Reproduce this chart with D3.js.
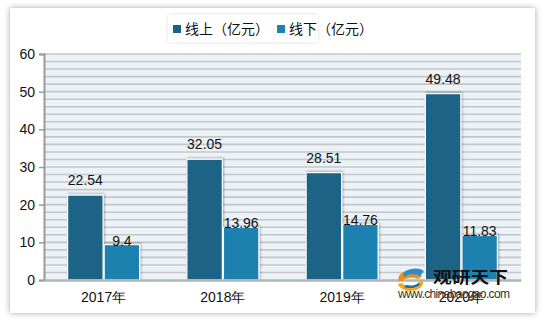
<!DOCTYPE html>
<html><head><meta charset="utf-8">
<script src="https://cdn.jsdelivr.net/npm/d3@7"></script>
<style>body{margin:0;background:#fff}svg{display:block}</style>
</head><body>
<svg id="c" width="547" height="327"></svg>
<script>
const categories = ["2017年","2018年","2019年","2020年"];
const seriesNames = ["线上（亿元）","线下（亿元）"];
const online = [22.54, 32.05, 28.51, 49.48];
const offline = [9.4, 13.96, 14.76, 11.83];
const yTicks = [0,10,20,30,40,50,60];
const colors = ["#1B6386","#1F81AF"];

(function(){
const svg = d3.select("#c");
const defs = svg.append("defs");
const f = defs.append("filter").attr("id","card").attr("x","-10%").attr("y","-10%").attr("width","120%").attr("height","120%");
f.append("feDropShadow").attr("dx",0).attr("dy",0).attr("stdDeviation",3).attr("flood-color","#000").attr("flood-opacity",0.35);
const fb = defs.append("filter").attr("id","bar").attr("x","-20%").attr("y","-20%").attr("width","140%").attr("height","140%");
fb.append("feDropShadow").attr("dx",1).attr("dy",-1).attr("stdDeviation",1.2).attr("flood-color","#000").attr("flood-opacity",0.3);
const fl = defs.append("filter").attr("id","leg").attr("x","-10%").attr("y","-30%").attr("width","120%").attr("height","160%");
fl.append("feDropShadow").attr("dx",0).attr("dy",0).attr("stdDeviation",2).attr("flood-color","#000").attr("flood-opacity",0.12);

svg.append("rect").attr("x",10).attr("y",8).attr("width",525).attr("height",305).attr("fill","#fff").attr("filter","url(#card)");

const pL=44, pR=521, pT=54, pB=280;
const x = d3.scaleBand().domain(categories).range([pL,pR]).paddingInner(0.396).paddingOuter(0.198);
const y = d3.scaleLinear().domain([0,60]).range([pB,pT]);

svg.append("rect").attr("x",pL).attr("y",pT).attr("width",pR-pL).attr("height",pB-pT).attr("fill","#EBF2F8");
const gridVals = d3.range(2,61,2);
svg.append("g").selectAll("line").data(gridVals).join("line")
  .attr("x1",pL).attr("x2",pR).attr("y1",d=>y(d)).attr("y2",d=>y(d))
  .attr("stroke","#C6C6C6").attr("stroke-width",1.6);

const yAxis = d3.axisLeft(y).tickValues(yTicks).tickSize(5).tickPadding(4);
const ya = svg.append("g").attr("transform",`translate(${pL},0)`).call(yAxis);
ya.select(".domain").attr("stroke","#9A9A9A").attr("stroke-width",2);
ya.selectAll(".tick line").attr("stroke","#9A9A9A").attr("stroke-width",1.5);
ya.selectAll(".tick text").attr("font-family","Liberation Sans, Arial, sans-serif").attr("font-size",14).attr("fill","#111");

const x1 = d3.scaleBand().domain([0,1]).range([0,x.bandwidth()]).paddingInner(0.03);
const series = [online, offline];
const g = svg.append("g");
series.forEach((vals,si)=>{
  g.selectAll(".b"+si).data(vals).join("rect").attr("class","b"+si)
    .attr("x",(d,i)=>x(categories[i])+x1(si))
    .attr("y",d=>y(d))
    .attr("width",x1.bandwidth())
    .attr("height",d=>pB-y(d))
    .attr("fill",colors[si]).attr("stroke","#fff").attr("stroke-width",1.2)
    .attr("filter","url(#bar)");
});
const xAxis = d3.axisBottom(x).tickSize(0).tickPadding(12);
const xa = svg.append("g").attr("transform",`translate(0,${pB})`).call(xAxis);
xa.select(".domain").attr("stroke","#B4B4B4").attr("stroke-width",2.5);
xa.selectAll(".tick text").attr("font-family","Liberation Sans, Arial, sans-serif").attr("font-size",14).attr("fill","#111");

series.forEach((vals,si)=>{
  g.selectAll(".t"+si).data(vals).join("text").attr("class","t"+si)
    .attr("x",(d,i)=>x(categories[i])+x1(si)+x1.bandwidth()/2)
    .attr("y",d=> si===0 ? y(d)-10 : y(d)+1)
    .attr("text-anchor","middle")
    .attr("font-family","Liberation Sans, Arial, sans-serif").attr("font-size",14).attr("fill","#111")
    .text(d=>d);
});

svg.append("rect").attr("x",168).attr("y",15).attr("width",150).attr("height",27).attr("fill","#fff").attr("filter","url(#leg)");
const legX = [173, 277];
seriesNames.forEach((n,i)=>{
  svg.append("rect").attr("x",legX[i]).attr("y",25).attr("width",8).attr("height",8).attr("fill",colors[i]);
  svg.append("text").attr("x",legX[i]+12).attr("y",34).attr("font-family","Noto Sans CJK SC, sans-serif")
    .attr("font-size",14).attr("fill","#111").text(n);
});

const wm = svg.append("g");
wm.append("path").attr("d","M399,281 A12,8 0 0 1 422,276 L418,279 A9,5 0 0 0 403,281 Z").attr("fill","#F28C1B");
wm.append("path").attr("d","M398,284 A12,8 0 0 0 423,281 L419,279 A9,5 0 0 1 402,283 Z").attr("fill","#F5A623");
wm.append("path").attr("d","M403,275 A12,7 0 0 1 424,271 L420,276 A9,5 0 0 0 405,277 Z").attr("fill","#2A8FC9");
wm.append("path").attr("d","M404,287 A10,5 0 0 0 420,284 L418,282 A8,3 0 0 1 406,285 Z").attr("fill","#1E6FA8");
wm.append("text").attr("x",433).attr("y",283).attr("font-family","Noto Sans CJK SC, sans-serif").attr("font-weight","bold")
  .attr("font-size",16).attr("textLength",75).attr("lengthAdjust","spacingAndGlyphs").attr("fill","#111").text("观研天下");
wm.append("text").attr("x",398).attr("y",298).attr("font-family","Liberation Sans, Arial, sans-serif")
  .attr("font-size",12).attr("textLength",112).attr("fill","#333").text("www.chinabaogao.com");
})();
</script>
</body></html>
